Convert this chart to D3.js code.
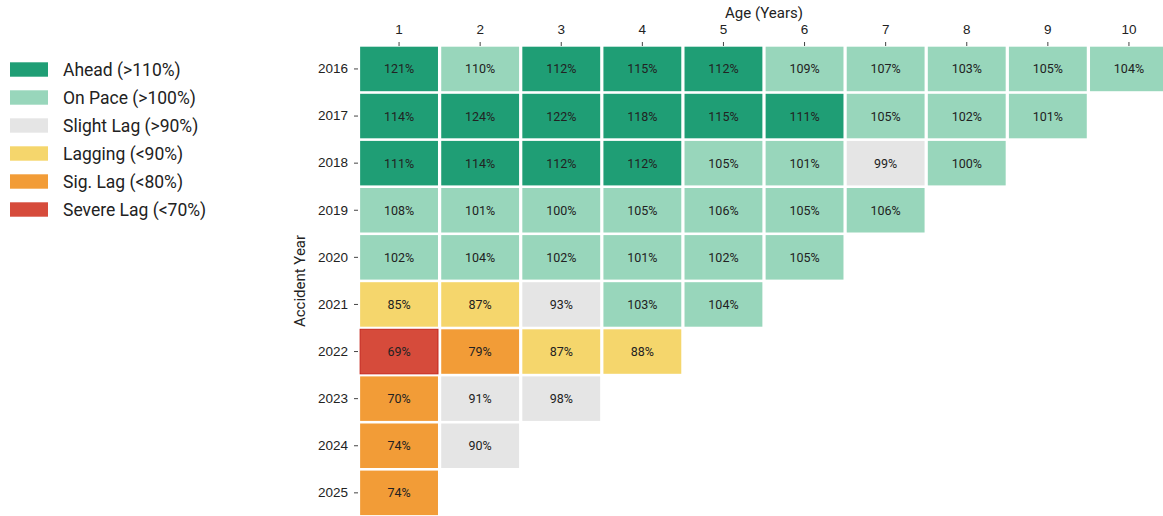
<!DOCTYPE html>
<html>
<head>
<meta charset="utf-8">
<script src="https://cdn.jsdelivr.net/npm/d3@7"></script>
<style>
  body { margin: 0; background: #fff; }
  svg { display: block; font-family: Roboto, "Noto Sans", sans-serif; }
</style>
</head>
<body>
<div id="chart_area"></div>
<script>
// data
const ages = [1, 2, 3, 4, 5, 6, 7, 8, 9, 10];
const years = [2016, 2017, 2018, 2019, 2020, 2021, 2022, 2023, 2024, 2025];
const pctByYear = [
  [121, 110, 112, 115, 112, 109, 107, 103, 105, 104],
  [114, 124, 122, 118, 115, 111, 105, 102, 101],
  [111, 114, 112, 112, 105, 101, 99, 100],
  [108, 101, 100, 105, 106, 105, 106],
  [102, 104, 102, 101, 102, 105],
  [85, 87, 93, 103, 104],
  [69, 79, 87, 88],
  [70, 91, 98],
  [74, 90],
  [74]
];
const legendLabels = ['Ahead (>110%)', 'On Pace (>100%)', 'Slight Lag (>90%)', 'Lagging (<90%)', 'Sig. Lag (<80%)', 'Severe Lag (<70%)'];
const legendColors = ['#1f9e75', '#98d6bb', '#e5e5e5', '#f5d66c', '#f29c37', '#d64b3b'];
const cutoffs = [70, 80, 90, 100, 111];

const width = 1163;
const height = 516;

const cells = [];
pctByYear.forEach((row, i) => {
  row.forEach((v, j) => cells.push({ year: years[i], age: ages[j], value: v }));
});

// severe -> ahead, low to high
const color = d3.scaleThreshold()
  .domain(cutoffs)
  .range(legendColors.slice().reverse());

const x = d3.scaleBand()
  .domain(ages)
  .range([358.5, 1169.5])
  .paddingInner(0.04)
  .paddingOuter(0.02);

const y = d3.scaleBand()
  .domain(years)
  .range([45.4, 516.4])
  .paddingInner(0.055)
  .paddingOuter(0.0275);

const svg = d3.select('#chart_area')
  .append('svg')
  .attr('width', width)
  .attr('height', height);

// cells
const cell = svg.append('g')
  .selectAll('g')
  .data(cells)
  .join('g');

cell.append('rect')
  .attr('x', d => x(d.age))
  .attr('y', d => y(d.year))
  .attr('width', x.bandwidth())
  .attr('height', y.bandwidth())
  .attr('fill', d => color(d.value))
  .attr('stroke', d => d.value < cutoffs[0] ? '#c4261c' : 'none')
  .attr('stroke-width', 1);

cell.append('text')
  .attr('x', d => x(d.age) + x.bandwidth() / 2)
  .attr('y', d => y(d.year) + y.bandwidth() / 2)
  .attr('text-anchor', 'middle')
  .attr('dominant-baseline', 'central')
  .attr('font-size', 12.5)
  .attr('fill', '#222')
  .text(d => d.value + '%');

// axes
const xAxis = svg.append('g')
  .attr('transform', 'translate(0,46)')
  .call(d3.axisTop(x).tickSize(4).tickPadding(8));
xAxis.select('.domain').remove();
xAxis.selectAll('text').attr('font-size', 13.5).attr('fill', '#222').attr('font-family', null);
xAxis.selectAll('line').attr('stroke', '#444');

const yAxis = svg.append('g')
  .attr('transform', 'translate(358,0)')
  .call(d3.axisLeft(y).tickSize(4).tickPadding(6));
yAxis.select('.domain').remove();
yAxis.selectAll('text').attr('font-size', 13.5).attr('fill', '#222').attr('font-family', null);
yAxis.selectAll('line').attr('stroke', '#444');

svg.append('text')
  .attr('x', 764)
  .attr('y', 12.5)
  .attr('text-anchor', 'middle')
  .attr('dominant-baseline', 'central')
  .attr('font-size', 15)
  .attr('fill', '#222')
  .text('Age (Years)');

svg.append('text')
  .attr('transform', 'translate(300,281) rotate(-90)')
  .attr('text-anchor', 'middle')
  .attr('dominant-baseline', 'central')
  .attr('font-size', 15)
  .attr('fill', '#222')
  .text('Accident Year');

// legend
const legend = svg.append('g')
  .selectAll('g')
  .data(legendLabels)
  .join('g')
  .attr('transform', (d, i) => `translate(10,${62.3 + i * 28})`);

legend.append('rect')
  .attr('width', 38)
  .attr('height', 14.4)
  .attr('fill', (d, i) => legendColors[i]);

legend.append('text')
  .attr('x', 53)
  .attr('y', 7.2)
  .attr('dominant-baseline', 'central')
  .attr('font-size', 17.5)
  .attr('fill', '#222')
  .text(d => d);
</script>
</body>
</html>
